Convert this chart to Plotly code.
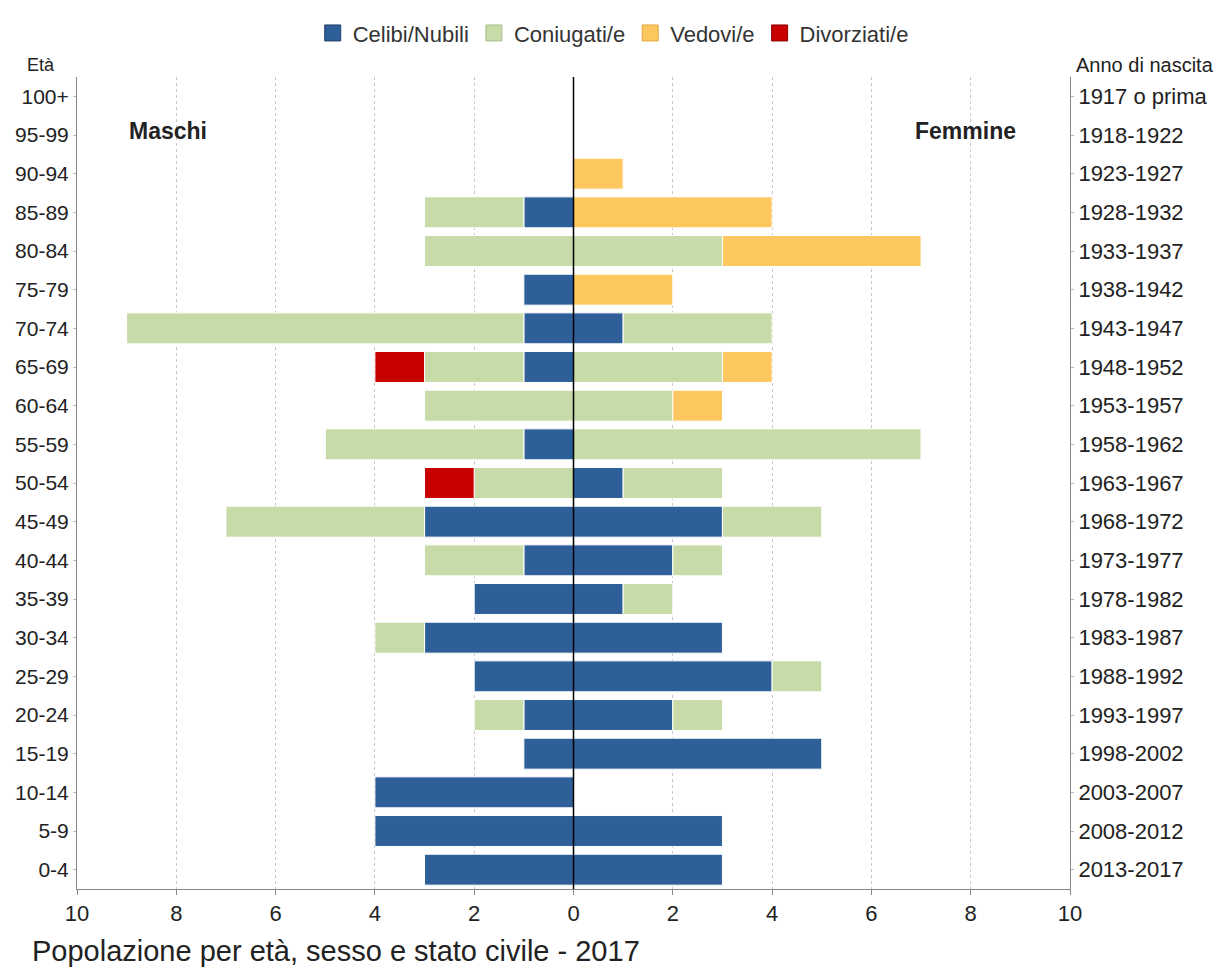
import plotly.graph_objects as go

ages = ["0-4", "5-9", "10-14", "15-19", "20-24", "25-29", "30-34", "35-39", "40-44",
        "45-49", "50-54", "55-59", "60-64", "65-69", "70-74", "75-79", "80-84", "85-89",
        "90-94", "95-99", "100+"]
birth_years = ["2013-2017", "2008-2012", "2003-2007", "1998-2002", "1993-1997", "1988-1992",
               "1983-1987", "1978-1982", "1973-1977", "1968-1972", "1963-1967", "1958-1962",
               "1953-1957", "1948-1952", "1943-1947", "1938-1942", "1933-1937", "1928-1932",
               "1923-1927", "1918-1922", "1917 o prima"]

male_celibi = [3, 4, 4, 1, 1, 2, 3, 2, 1, 3, 0, 1, 0, 1, 1, 1, 0, 1, 0, 0, 0]
male_coniugati = [0, 0, 0, 0, 1, 0, 1, 0, 2, 4, 2, 4, 3, 2, 8, 0, 3, 2, 0, 0, 0]
male_vedovi = [0] * 21
male_divorziati = [0, 0, 0, 0, 0, 0, 0, 0, 0, 0, 1, 0, 0, 1, 0, 0, 0, 0, 0, 0, 0]

female_nubili = [3, 3, 0, 5, 2, 4, 3, 1, 2, 3, 1, 0, 0, 0, 1, 0, 0, 0, 0, 0, 0]
female_coniugate = [0, 0, 0, 0, 1, 1, 0, 1, 1, 2, 2, 7, 2, 3, 3, 0, 3, 0, 0, 0, 0]
female_vedove = [0, 0, 0, 0, 0, 0, 0, 0, 0, 0, 0, 0, 1, 1, 0, 2, 4, 4, 1, 0, 0]
female_divorziate = [0] * 21

status_names = ["Celibi/Nubili", "Coniugati/e", "Vedovi/e", "Divorziati/e"]
colors = ["#2f5f98", "#c6dba8", "#fdc75f", "#c80000"]
edge_colors = ["#1f3f68", "#a9bf8c", "#e0a940", "#8a0000"]

males = [male_celibi, male_coniugati, male_vedovi, male_divorziati]
females = [female_nubili, female_coniugate, female_vedove, female_divorziate]

FONT = "Liberation Sans, Arial, sans-serif"
TXT = "#222222"

fig = go.Figure()
for name, col, m, f in zip(status_names, colors, males, females):
    fig.add_trace(go.Bar(
        y=ages, x=[-v if v else None for v in m], orientation="h", name=name,
        legendgroup=name, marker=dict(color=col, line=dict(color="white", width=1)),
        showlegend=False))
    fig.add_trace(go.Bar(
        y=ages, x=[v if v else None for v in f], orientation="h", name=name,
        legendgroup=name, marker=dict(color=col, line=dict(color="white", width=1)),
        showlegend=False))

# legend-only entries with larger square swatches
for name, col, ec in zip(status_names, colors, edge_colors):
    fig.add_trace(go.Scatter(
        x=[None], y=[None], mode="markers", name=name, legendgroup=name,
        marker=dict(symbol="square", size=20, color=col, line=dict(color=ec, width=1)),
        showlegend=True))

# invisible trace for right axis
fig.add_trace(go.Scatter(y=ages, x=[0] * len(ages), yaxis="y2", mode="markers",
                         marker=dict(opacity=0, size=1), showlegend=False, hoverinfo="skip"))

ticks = list(range(-10, 11, 2))
yrange = [-0.5, len(ages) - 0.5]
fig.update_layout(
    width=1219, height=971,
    barmode="relative", bargap=0.2,
    plot_bgcolor="white", paper_bgcolor="white",
    margin=dict(l=77, r=149, t=74, b=82),
    font=dict(family=FONT, color=TXT, size=16),
    xaxis=dict(range=[-10, 10], tickvals=ticks, ticktext=[str(abs(t)) for t in ticks],
               showgrid=True, gridcolor="#c8c8c8", griddash="dot", gridwidth=1,
               zeroline=False, showline=True, linecolor="#888888", linewidth=1,
               ticks="outside", ticklen=5, tickcolor="#888888",
               tickfont=dict(size=22, color=TXT)),
    yaxis=dict(type="category", categoryorder="array", categoryarray=ages, range=yrange,
               showline=True, linecolor="#888888", linewidth=1, showgrid=False,
               ticks="outside", ticklen=3, tickcolor="#bbbbbb",
               tickfont=dict(size=21, color=TXT)),
    yaxis2=dict(type="category", categoryorder="array", categoryarray=ages, range=yrange,
                overlaying="y", side="right", tickvals=ages, ticktext=birth_years,
                showline=True, linecolor="#888888", linewidth=1, showgrid=False,
                ticks="outside", ticklen=3, tickcolor="#bbbbbb",
                tickfont=dict(size=22, color=TXT)),
    legend=dict(orientation="h", x=0.54, xanchor="center", y=1.054, yanchor="middle",
                font=dict(size=22, color="#333333"), traceorder="normal",
                itemsizing="trace"),
)

fig.add_vline(x=0, line=dict(color="black", width=1.5), layer="above")

fig.add_annotation(text="<b>Maschi</b>", xref="paper", yref="paper", x=0.0916, y=0.934,
                   showarrow=False, font=dict(size=23, color=TXT, family=FONT),
                   xanchor="center", yanchor="middle")
fig.add_annotation(text="<b>Femmine</b>", xref="paper", yref="paper", x=0.895, y=0.934,
                   showarrow=False, font=dict(size=23, color=TXT, family=FONT),
                   xanchor="center", yanchor="middle")
fig.add_annotation(text="Età", xref="paper", yref="paper", x=-0.036, y=1.0147,
                   showarrow=False, font=dict(size=18, color=TXT, family=FONT),
                   xanchor="center", yanchor="middle")
fig.add_annotation(text="Anno di nascita", xref="paper", yref="paper", x=1.0755, y=1.0147,
                   showarrow=False, font=dict(size=20, color=TXT, family=FONT),
                   xanchor="center", yanchor="middle")
fig.add_annotation(text="Popolazione per età, sesso e stato civile - 2017", xref="paper",
                   yref="paper", x=-0.0473, y=-0.0765, showarrow=False,
                   font=dict(size=29, color=TXT, family=FONT),
                   xanchor="left", yanchor="middle")

fig.write_html("out.html", config={"displayModeBar": False},
               post_script="document.body.style.margin='0';")
